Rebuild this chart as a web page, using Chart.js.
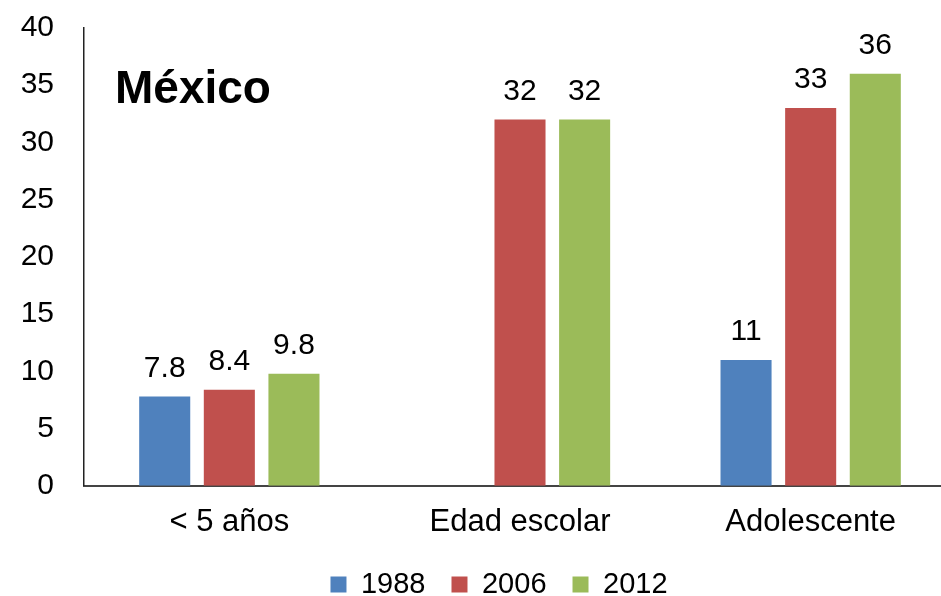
<!DOCTYPE html>
<html>
<head>
<meta charset="utf-8">
<script src="https://cdn.jsdelivr.net/npm/chart.js@4"></script>
<style>
  body { margin: 0; overflow: hidden; background: #fff; }
  #wrap { width: 956px; height: 596px; }
</style>
</head>
<body>
<div id="wrap"><canvas id="chart"></canvas></div>
<script>
const categories = ['< 5 años', 'Edad escolar', 'Adolescente'];
const years = ['1988', '2006', '2012'];
const values1988 = [7.8, null, 11];
const values2006 = [8.4, 32, 33];
const values2012 = [9.8, 32, 36];
const colors = ['#4F81BD', '#C0504D', '#9BBB59'];

const FONT = "'Liberation Sans', Arial, sans-serif";

// numbers above the bars
const barLabels = {
  id: 'barLabels',
  afterDatasetsDraw(chart) {
    const ctx = chart.ctx;
    ctx.save();
    ctx.font = '30px ' + FONT;
    ctx.fillStyle = '#000';
    ctx.textAlign = 'center';
    ctx.textBaseline = 'alphabetic';
    chart.data.datasets.forEach((ds, i) => {
      chart.getDatasetMeta(i).data.forEach((bar, j) => {
        if (ds.data[j] == null) return;
        ctx.fillText(String(ds.data[j]), bar.x, bar.y - 20);
      });
    });
    ctx.restore();
  }
};

// "México" inside the plot
const titleInside = {
  id: 'titleInside',
  afterDraw(chart) {
    const ctx = chart.ctx;
    ctx.save();
    ctx.font = 'bold 46px ' + FONT;
    ctx.fillStyle = '#000';
    ctx.textBaseline = 'alphabetic';
    ctx.fillText('México', chart.chartArea.left + 31, 103);
    ctx.restore();
  }
};

// legend is centred on the visible page, not the wider canvas
const legendShift = {
  id: 'legendShift',
  afterLayout(chart) {
    const lg = chart.legend;
    lg.left += 21;
    lg.right += 21;
    lg.top -= 15;
    lg.bottom -= 15;
  }
};

new Chart(document.getElementById('chart'), {
  type: 'bar',
  data: {
    labels: categories,
    datasets: [
      { label: years[0], data: values1988, backgroundColor: colors[0] },
      { label: years[1], data: values2006, backgroundColor: colors[1] },
      { label: years[2], data: values2012, backgroundColor: colors[2] }
    ]
  },
  options: {
    responsive: true,
    maintainAspectRatio: false,
    animation: false,
    categoryPercentage: 0.667,
    barPercentage: 0.79,
    layout: { padding: { top: 0, right: 0, bottom: -28, left: 0 } },
    plugins: {
      tooltip: { enabled: false },
      legend: {
        position: 'bottom',
        labels: {
          font: { family: FONT, size: 29 },
          color: '#000',
          boxWidth: 16,
          boxHeight: 16,
          padding: 26
        }
      }
    },
    scales: {
      x: {
        grid: { display: false, drawTicks: false },
        border: { display: true, color: '#444', width: 2 },
        ticks: { font: { family: FONT, size: 31 }, color: '#000', padding: 18 }
      },
      y: {
        min: 0,
        max: 40,
        grid: { display: false, drawTicks: false },
        border: { display: true, color: '#222', width: 1.5 },
        ticks: { stepSize: 5, font: { family: FONT, size: 30 }, color: '#000', padding: 30 },
        afterFit(scale) {
          scale.width = 84;
          scale.paddingTop = 28;
          scale.paddingBottom = 18;
        }
      }
    }
  },
  plugins: [barLabels, titleInside, legendShift]
});
</script>
</body>
</html>
